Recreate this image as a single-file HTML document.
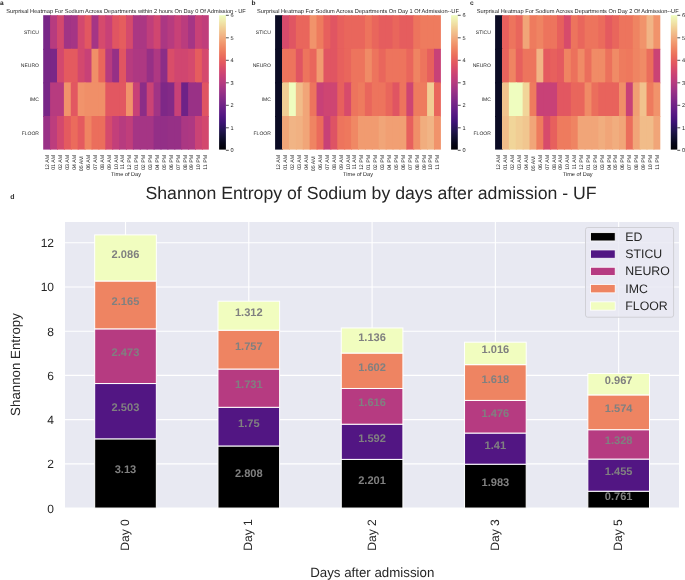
<!DOCTYPE html><html><head><meta charset="utf-8"><style>html,body{margin:0;padding:0;background:#fff;overflow:hidden}svg{display:block;filter:blur(0.45px)}text{text-rendering:geometricPrecision}</style></head><body><svg width="685" height="580" viewBox="0 0 685 580" font-family='"Liberation Sans", sans-serif'>
<rect width="685" height="580" fill="#fff"/>
<rect x="43.20" y="15.20" width="7.90" height="34.60" fill="#782687"/>
<rect x="50.10" y="15.20" width="7.90" height="34.60" fill="#b73b7f"/>
<rect x="57.00" y="15.20" width="7.90" height="34.60" fill="#d3486e"/>
<rect x="63.90" y="15.20" width="7.90" height="34.60" fill="#a13485"/>
<rect x="70.80" y="15.20" width="7.90" height="34.60" fill="#a53585"/>
<rect x="77.70" y="15.20" width="7.90" height="34.60" fill="#d3486e"/>
<rect x="84.60" y="15.20" width="7.90" height="34.60" fill="#e25761"/>
<rect x="91.50" y="15.20" width="7.90" height="34.60" fill="#a53585"/>
<rect x="98.40" y="15.20" width="7.90" height="34.60" fill="#d54a6d"/>
<rect x="105.30" y="15.20" width="7.90" height="34.60" fill="#c84177"/>
<rect x="112.20" y="15.20" width="7.90" height="34.60" fill="#e05562"/>
<rect x="119.10" y="15.20" width="7.90" height="34.60" fill="#e55d5e"/>
<rect x="126.00" y="15.20" width="7.90" height="34.60" fill="#d54a6d"/>
<rect x="132.90" y="15.20" width="7.90" height="34.60" fill="#ab3783"/>
<rect x="139.80" y="15.20" width="7.90" height="34.60" fill="#ab3783"/>
<rect x="146.70" y="15.20" width="7.90" height="34.60" fill="#c03e7b"/>
<rect x="153.60" y="15.20" width="7.90" height="34.60" fill="#d04670"/>
<rect x="160.50" y="15.20" width="7.90" height="34.60" fill="#ab3783"/>
<rect x="167.40" y="15.20" width="7.90" height="34.60" fill="#b73b7f"/>
<rect x="174.30" y="15.20" width="7.90" height="34.60" fill="#c84177"/>
<rect x="181.20" y="15.20" width="7.90" height="34.60" fill="#ba3c7e"/>
<rect x="188.10" y="15.20" width="7.90" height="34.60" fill="#a53585"/>
<rect x="195.00" y="15.20" width="7.90" height="34.60" fill="#c84177"/>
<rect x="201.90" y="15.20" width="6.90" height="34.60" fill="#c03e7b"/>
<rect x="43.20" y="48.80" width="7.90" height="34.60" fill="#782687"/>
<rect x="50.10" y="48.80" width="7.90" height="34.60" fill="#7b2787"/>
<rect x="57.00" y="48.80" width="7.90" height="34.60" fill="#d3486e"/>
<rect x="63.90" y="48.80" width="7.90" height="34.60" fill="#e45a5f"/>
<rect x="70.80" y="48.80" width="7.90" height="34.60" fill="#e45a5f"/>
<rect x="77.70" y="48.80" width="7.90" height="34.60" fill="#d3486e"/>
<rect x="84.60" y="48.80" width="7.90" height="34.60" fill="#c84177"/>
<rect x="91.50" y="48.80" width="7.90" height="34.60" fill="#f08f68"/>
<rect x="98.40" y="48.80" width="7.90" height="34.60" fill="#e9665c"/>
<rect x="105.30" y="48.80" width="7.90" height="34.60" fill="#b73b7f"/>
<rect x="112.20" y="48.80" width="7.90" height="34.60" fill="#963086"/>
<rect x="119.10" y="48.80" width="7.90" height="34.60" fill="#e05562"/>
<rect x="126.00" y="48.80" width="7.90" height="34.60" fill="#b73b7f"/>
<rect x="132.90" y="48.80" width="7.90" height="34.60" fill="#ae3882"/>
<rect x="139.80" y="48.80" width="7.90" height="34.60" fill="#ae3882"/>
<rect x="146.70" y="48.80" width="7.90" height="34.60" fill="#963086"/>
<rect x="153.60" y="48.80" width="7.90" height="34.60" fill="#ae3882"/>
<rect x="160.50" y="48.80" width="7.90" height="34.60" fill="#8c2d87"/>
<rect x="167.40" y="48.80" width="7.90" height="34.60" fill="#d94d69"/>
<rect x="174.30" y="48.80" width="7.90" height="34.60" fill="#d04670"/>
<rect x="181.20" y="48.80" width="7.90" height="34.60" fill="#d04670"/>
<rect x="188.10" y="48.80" width="7.90" height="34.60" fill="#d54a6d"/>
<rect x="195.00" y="48.80" width="7.90" height="34.60" fill="#e55d5e"/>
<rect x="201.90" y="48.80" width="6.90" height="34.60" fill="#d54a6d"/>
<rect x="43.20" y="82.40" width="7.90" height="34.60" fill="#782687"/>
<rect x="50.10" y="82.40" width="7.90" height="34.60" fill="#b73b7f"/>
<rect x="57.00" y="82.40" width="7.90" height="34.60" fill="#b73b7f"/>
<rect x="63.90" y="82.40" width="7.90" height="34.60" fill="#f1936b"/>
<rect x="70.80" y="82.40" width="7.90" height="34.60" fill="#e25761"/>
<rect x="77.70" y="82.40" width="7.90" height="34.60" fill="#f1936b"/>
<rect x="84.60" y="82.40" width="7.90" height="34.60" fill="#f08f68"/>
<rect x="91.50" y="82.40" width="7.90" height="34.60" fill="#f08f68"/>
<rect x="98.40" y="82.40" width="7.90" height="34.60" fill="#f08f68"/>
<rect x="105.30" y="82.40" width="7.90" height="34.60" fill="#e25761"/>
<rect x="112.20" y="82.40" width="7.90" height="34.60" fill="#e25761"/>
<rect x="119.10" y="82.40" width="7.90" height="34.60" fill="#e25761"/>
<rect x="126.00" y="82.40" width="7.90" height="34.60" fill="#f1936b"/>
<rect x="132.90" y="82.40" width="7.90" height="34.60" fill="#c84177"/>
<rect x="139.80" y="82.40" width="7.90" height="34.60" fill="#8c2d87"/>
<rect x="146.70" y="82.40" width="7.90" height="34.60" fill="#ca4375"/>
<rect x="153.60" y="82.40" width="7.90" height="34.60" fill="#a13485"/>
<rect x="160.50" y="82.40" width="7.90" height="34.60" fill="#7e2887"/>
<rect x="167.40" y="82.40" width="7.90" height="34.60" fill="#832a87"/>
<rect x="174.30" y="82.40" width="7.90" height="34.60" fill="#c84177"/>
<rect x="181.20" y="82.40" width="7.90" height="34.60" fill="#6e2287"/>
<rect x="188.10" y="82.40" width="7.90" height="34.60" fill="#993186"/>
<rect x="195.00" y="82.40" width="7.90" height="34.60" fill="#993186"/>
<rect x="201.90" y="82.40" width="6.90" height="34.60" fill="#e05562"/>
<rect x="43.20" y="116.00" width="7.90" height="33.60" fill="#993186"/>
<rect x="50.10" y="116.00" width="7.90" height="33.60" fill="#bd3d7d"/>
<rect x="57.00" y="116.00" width="7.90" height="33.60" fill="#d3486e"/>
<rect x="63.90" y="116.00" width="7.90" height="33.60" fill="#e45a5f"/>
<rect x="70.80" y="116.00" width="7.90" height="33.60" fill="#eb6b5c"/>
<rect x="77.70" y="116.00" width="7.90" height="33.60" fill="#e45a5f"/>
<rect x="84.60" y="116.00" width="7.90" height="33.60" fill="#ef8462"/>
<rect x="91.50" y="116.00" width="7.90" height="33.60" fill="#eb6e5c"/>
<rect x="98.40" y="116.00" width="7.90" height="33.60" fill="#eb6e5c"/>
<rect x="105.30" y="116.00" width="7.90" height="33.60" fill="#d54a6d"/>
<rect x="112.20" y="116.00" width="7.90" height="33.60" fill="#c33f7a"/>
<rect x="119.10" y="116.00" width="7.90" height="33.60" fill="#b73b7f"/>
<rect x="126.00" y="116.00" width="7.90" height="33.60" fill="#c03e7b"/>
<rect x="132.90" y="116.00" width="7.90" height="33.60" fill="#a53585"/>
<rect x="139.80" y="116.00" width="7.90" height="33.60" fill="#a53585"/>
<rect x="146.70" y="116.00" width="7.90" height="33.60" fill="#a53585"/>
<rect x="153.60" y="116.00" width="7.90" height="33.60" fill="#932f87"/>
<rect x="160.50" y="116.00" width="7.90" height="33.60" fill="#932f87"/>
<rect x="167.40" y="116.00" width="7.90" height="33.60" fill="#963086"/>
<rect x="174.30" y="116.00" width="7.90" height="33.60" fill="#963086"/>
<rect x="181.20" y="116.00" width="7.90" height="33.60" fill="#ab3783"/>
<rect x="188.10" y="116.00" width="7.90" height="33.60" fill="#ae3882"/>
<rect x="195.00" y="116.00" width="7.90" height="33.60" fill="#ca4375"/>
<rect x="201.90" y="116.00" width="6.90" height="33.60" fill="#d3486e"/>
<defs><linearGradient id="ga" x1="0" y1="0" x2="0" y2="1"><stop offset="0.000" stop-color="#effdbf"/><stop offset="0.050" stop-color="#f0e6a9"/><stop offset="0.100" stop-color="#f1cd94"/><stop offset="0.150" stop-color="#f1b485"/><stop offset="0.200" stop-color="#f19b70"/><stop offset="0.250" stop-color="#ef8462"/><stop offset="0.300" stop-color="#eb6e5c"/><stop offset="0.350" stop-color="#e45a5f"/><stop offset="0.400" stop-color="#d74b6b"/><stop offset="0.450" stop-color="#c84177"/><stop offset="0.500" stop-color="#b73b7f"/><stop offset="0.550" stop-color="#a13485"/><stop offset="0.600" stop-color="#8c2d87"/><stop offset="0.650" stop-color="#782687"/><stop offset="0.700" stop-color="#641e86"/><stop offset="0.750" stop-color="#511682"/><stop offset="0.800" stop-color="#3b1373"/><stop offset="0.850" stop-color="#251555"/><stop offset="0.900" stop-color="#141136"/><stop offset="0.950" stop-color="#06061a"/><stop offset="1.000" stop-color="#000004"/></linearGradient></defs>
<rect x="219.1" y="15.2" width="6.80" height="134.40" fill="url(#ga)"/>
<line x1="225.9" x2="228.8" y1="150.30" y2="150.30" stroke="#262626" stroke-width="0.8"/>
<text x="230.50" y="152.30" font-size="5.6" fill="#262626">0</text>
<line x1="225.9" x2="228.8" y1="127.80" y2="127.80" stroke="#262626" stroke-width="0.8"/>
<text x="230.50" y="129.80" font-size="5.6" fill="#262626">1</text>
<line x1="225.9" x2="228.8" y1="105.30" y2="105.30" stroke="#262626" stroke-width="0.8"/>
<text x="230.50" y="107.30" font-size="5.6" fill="#262626">2</text>
<line x1="225.9" x2="228.8" y1="82.80" y2="82.80" stroke="#262626" stroke-width="0.8"/>
<text x="230.50" y="84.80" font-size="5.6" fill="#262626">3</text>
<line x1="225.9" x2="228.8" y1="60.30" y2="60.30" stroke="#262626" stroke-width="0.8"/>
<text x="230.50" y="62.30" font-size="5.6" fill="#262626">4</text>
<line x1="225.9" x2="228.8" y1="37.80" y2="37.80" stroke="#262626" stroke-width="0.8"/>
<text x="230.50" y="39.80" font-size="5.6" fill="#262626">5</text>
<line x1="225.9" x2="228.8" y1="15.30" y2="15.30" stroke="#262626" stroke-width="0.8"/>
<text x="230.50" y="17.30" font-size="5.6" fill="#262626">6</text>
<text x="126.00" y="12.75" font-size="5.66" fill="#262626" text-anchor="middle">Surprisal Heatmap For Sodium Across Departments within 2 hours On Day 0 Of Admission - UF</text>
<text x="0.0" y="4.7" font-size="6.6" font-weight="bold" fill="#262626">a</text>
<text x="38.90" y="33.80" font-size="5" fill="#262626" text-anchor="end">STICU</text>
<text x="38.90" y="67.40" font-size="5" fill="#262626" text-anchor="end">NEURO</text>
<text x="38.90" y="101.00" font-size="5" fill="#262626" text-anchor="end">IMC</text>
<text x="38.90" y="134.60" font-size="5" fill="#262626" text-anchor="end">FLOOR</text>
<text transform="translate(48.55,154.8) rotate(-90)" font-size="5.3" fill="#262626" text-anchor="end">12 AM</text>
<text transform="translate(55.45,154.8) rotate(-90)" font-size="5.3" fill="#262626" text-anchor="end">01 AM</text>
<text transform="translate(62.35,154.8) rotate(-90)" font-size="5.3" fill="#262626" text-anchor="end">02 AM</text>
<text transform="translate(69.25,154.8) rotate(-90)" font-size="5.3" fill="#262626" text-anchor="end">03 AM</text>
<text transform="translate(76.15,154.8) rotate(-90)" font-size="5.3" fill="#262626" text-anchor="end">04 AM</text>
<text transform="translate(83.05,156.2) rotate(-90)" font-size="5.3" fill="#262626" text-anchor="end">05 AM</text>
<text transform="translate(89.95,154.8) rotate(-90)" font-size="5.3" fill="#262626" text-anchor="end">06 AM</text>
<text transform="translate(96.85,154.8) rotate(-90)" font-size="5.3" fill="#262626" text-anchor="end">07 AM</text>
<text transform="translate(103.75,154.8) rotate(-90)" font-size="5.3" fill="#262626" text-anchor="end">08 AM</text>
<text transform="translate(110.65,154.8) rotate(-90)" font-size="5.3" fill="#262626" text-anchor="end">09 AM</text>
<text transform="translate(117.55,154.8) rotate(-90)" font-size="5.3" fill="#262626" text-anchor="end">10 AM</text>
<text transform="translate(124.45,154.8) rotate(-90)" font-size="5.3" fill="#262626" text-anchor="end">11 AM</text>
<text transform="translate(131.35,154.8) rotate(-90)" font-size="5.3" fill="#262626" text-anchor="end">12 PM</text>
<text transform="translate(138.25,154.8) rotate(-90)" font-size="5.3" fill="#262626" text-anchor="end">01 PM</text>
<text transform="translate(145.15,154.8) rotate(-90)" font-size="5.3" fill="#262626" text-anchor="end">02 PM</text>
<text transform="translate(152.05,154.8) rotate(-90)" font-size="5.3" fill="#262626" text-anchor="end">03 PM</text>
<text transform="translate(158.95,154.8) rotate(-90)" font-size="5.3" fill="#262626" text-anchor="end">04 PM</text>
<text transform="translate(165.85,154.8) rotate(-90)" font-size="5.3" fill="#262626" text-anchor="end">05 PM</text>
<text transform="translate(172.75,154.8) rotate(-90)" font-size="5.3" fill="#262626" text-anchor="end">06 PM</text>
<text transform="translate(179.65,154.8) rotate(-90)" font-size="5.3" fill="#262626" text-anchor="end">07 PM</text>
<text transform="translate(186.55,154.8) rotate(-90)" font-size="5.3" fill="#262626" text-anchor="end">08 PM</text>
<text transform="translate(193.45,154.8) rotate(-90)" font-size="5.3" fill="#262626" text-anchor="end">09 PM</text>
<text transform="translate(200.35,154.8) rotate(-90)" font-size="5.3" fill="#262626" text-anchor="end">10 PM</text>
<text transform="translate(207.25,154.8) rotate(-90)" font-size="5.3" fill="#262626" text-anchor="end">11 PM</text>
<text x="126.00" y="176.3" font-size="5.6" fill="#262626" text-anchor="middle">Time of Day</text>
<rect x="275.10" y="15.20" width="7.91" height="34.60" fill="#0b0b24"/>
<rect x="282.01" y="15.20" width="7.91" height="34.60" fill="#d74b6b"/>
<rect x="288.92" y="15.20" width="7.91" height="34.60" fill="#e05562"/>
<rect x="295.83" y="15.20" width="7.91" height="34.60" fill="#e9665c"/>
<rect x="302.73" y="15.20" width="7.91" height="34.60" fill="#e9665c"/>
<rect x="309.64" y="15.20" width="7.91" height="34.60" fill="#f1936b"/>
<rect x="316.55" y="15.20" width="7.91" height="34.60" fill="#ee7b5e"/>
<rect x="323.46" y="15.20" width="7.91" height="34.60" fill="#e7605d"/>
<rect x="330.37" y="15.20" width="7.91" height="34.60" fill="#e05562"/>
<rect x="337.27" y="15.20" width="7.91" height="34.60" fill="#e7605d"/>
<rect x="344.18" y="15.20" width="7.91" height="34.60" fill="#e9665c"/>
<rect x="351.09" y="15.20" width="7.91" height="34.60" fill="#e9665c"/>
<rect x="358.00" y="15.20" width="7.91" height="34.60" fill="#e9665c"/>
<rect x="364.91" y="15.20" width="7.91" height="34.60" fill="#ed745d"/>
<rect x="371.82" y="15.20" width="7.91" height="34.60" fill="#e9665c"/>
<rect x="378.73" y="15.20" width="7.91" height="34.60" fill="#e55d5e"/>
<rect x="385.63" y="15.20" width="7.91" height="34.60" fill="#e55d5e"/>
<rect x="392.54" y="15.20" width="7.91" height="34.60" fill="#e9665c"/>
<rect x="399.45" y="15.20" width="7.91" height="34.60" fill="#e55d5e"/>
<rect x="406.36" y="15.20" width="7.91" height="34.60" fill="#e55d5e"/>
<rect x="413.27" y="15.20" width="7.91" height="34.60" fill="#ed745d"/>
<rect x="420.17" y="15.20" width="7.91" height="34.60" fill="#ee7b5e"/>
<rect x="427.08" y="15.20" width="7.91" height="34.60" fill="#ee7b5e"/>
<rect x="433.99" y="15.20" width="6.91" height="34.60" fill="#ee7b5e"/>
<rect x="275.10" y="48.80" width="7.91" height="34.60" fill="#0b0b24"/>
<rect x="282.01" y="48.80" width="7.91" height="34.60" fill="#ed745d"/>
<rect x="288.92" y="48.80" width="7.91" height="34.60" fill="#ed745d"/>
<rect x="295.83" y="48.80" width="7.91" height="34.60" fill="#e05562"/>
<rect x="302.73" y="48.80" width="7.91" height="34.60" fill="#ed745d"/>
<rect x="309.64" y="48.80" width="7.91" height="34.60" fill="#e9665c"/>
<rect x="316.55" y="48.80" width="7.91" height="34.60" fill="#f19b70"/>
<rect x="323.46" y="48.80" width="7.91" height="34.60" fill="#e05562"/>
<rect x="330.37" y="48.80" width="7.91" height="34.60" fill="#e05562"/>
<rect x="337.27" y="48.80" width="7.91" height="34.60" fill="#e7605d"/>
<rect x="344.18" y="48.80" width="7.91" height="34.60" fill="#e9665c"/>
<rect x="351.09" y="48.80" width="7.91" height="34.60" fill="#ed745d"/>
<rect x="358.00" y="48.80" width="7.91" height="34.60" fill="#ed745d"/>
<rect x="364.91" y="48.80" width="7.91" height="34.60" fill="#f08b66"/>
<rect x="371.82" y="48.80" width="7.91" height="34.60" fill="#ed745d"/>
<rect x="378.73" y="48.80" width="7.91" height="34.60" fill="#e9665c"/>
<rect x="385.63" y="48.80" width="7.91" height="34.60" fill="#ed745d"/>
<rect x="392.54" y="48.80" width="7.91" height="34.60" fill="#ed745d"/>
<rect x="399.45" y="48.80" width="7.91" height="34.60" fill="#ed745d"/>
<rect x="406.36" y="48.80" width="7.91" height="34.60" fill="#e9665c"/>
<rect x="413.27" y="48.80" width="7.91" height="34.60" fill="#ef8462"/>
<rect x="420.17" y="48.80" width="7.91" height="34.60" fill="#ed745d"/>
<rect x="427.08" y="48.80" width="7.91" height="34.60" fill="#e7605d"/>
<rect x="433.99" y="48.80" width="6.91" height="34.60" fill="#c84177"/>
<rect x="275.10" y="82.40" width="7.91" height="34.60" fill="#0b0b24"/>
<rect x="282.01" y="82.40" width="7.91" height="34.60" fill="#f1cd94"/>
<rect x="288.92" y="82.40" width="7.91" height="34.60" fill="#effdbf"/>
<rect x="295.83" y="82.40" width="7.91" height="34.60" fill="#f1bc89"/>
<rect x="302.73" y="82.40" width="7.91" height="34.60" fill="#f1a578"/>
<rect x="309.64" y="82.40" width="7.91" height="34.60" fill="#ed745d"/>
<rect x="316.55" y="82.40" width="7.91" height="34.60" fill="#c84177"/>
<rect x="323.46" y="82.40" width="7.91" height="34.60" fill="#ce4572"/>
<rect x="330.37" y="82.40" width="7.91" height="34.60" fill="#ce4572"/>
<rect x="337.27" y="82.40" width="7.91" height="34.60" fill="#e7605d"/>
<rect x="344.18" y="82.40" width="7.91" height="34.60" fill="#d74b6b"/>
<rect x="351.09" y="82.40" width="7.91" height="34.60" fill="#ed745d"/>
<rect x="358.00" y="82.40" width="7.91" height="34.60" fill="#ee7b5e"/>
<rect x="364.91" y="82.40" width="7.91" height="34.60" fill="#e9665c"/>
<rect x="371.82" y="82.40" width="7.91" height="34.60" fill="#ed745d"/>
<rect x="378.73" y="82.40" width="7.91" height="34.60" fill="#ed745d"/>
<rect x="385.63" y="82.40" width="7.91" height="34.60" fill="#e9665c"/>
<rect x="392.54" y="82.40" width="7.91" height="34.60" fill="#e05562"/>
<rect x="399.45" y="82.40" width="7.91" height="34.60" fill="#ed745d"/>
<rect x="406.36" y="82.40" width="7.91" height="34.60" fill="#ce4572"/>
<rect x="413.27" y="82.40" width="7.91" height="34.60" fill="#ee7b5e"/>
<rect x="420.17" y="82.40" width="7.91" height="34.60" fill="#ee7b5e"/>
<rect x="427.08" y="82.40" width="7.91" height="34.60" fill="#f1cd94"/>
<rect x="433.99" y="82.40" width="6.91" height="34.60" fill="#e9665c"/>
<rect x="275.10" y="116.00" width="7.91" height="33.60" fill="#0b0b24"/>
<rect x="282.01" y="116.00" width="7.91" height="33.60" fill="#f1a578"/>
<rect x="288.92" y="116.00" width="7.91" height="33.60" fill="#f1b485"/>
<rect x="295.83" y="116.00" width="7.91" height="33.60" fill="#f1b182"/>
<rect x="302.73" y="116.00" width="7.91" height="33.60" fill="#f1a578"/>
<rect x="309.64" y="116.00" width="7.91" height="33.60" fill="#ef8462"/>
<rect x="316.55" y="116.00" width="7.91" height="33.60" fill="#eb6b5c"/>
<rect x="323.46" y="116.00" width="7.91" height="33.60" fill="#c84177"/>
<rect x="330.37" y="116.00" width="7.91" height="33.60" fill="#de5364"/>
<rect x="337.27" y="116.00" width="7.91" height="33.60" fill="#ed745d"/>
<rect x="344.18" y="116.00" width="7.91" height="33.60" fill="#ee785d"/>
<rect x="351.09" y="116.00" width="7.91" height="33.60" fill="#f08864"/>
<rect x="358.00" y="116.00" width="7.91" height="33.60" fill="#f19b70"/>
<rect x="364.91" y="116.00" width="7.91" height="33.60" fill="#f19b70"/>
<rect x="371.82" y="116.00" width="7.91" height="33.60" fill="#f19b70"/>
<rect x="378.73" y="116.00" width="7.91" height="33.60" fill="#f1a578"/>
<rect x="385.63" y="116.00" width="7.91" height="33.60" fill="#f19f73"/>
<rect x="392.54" y="116.00" width="7.91" height="33.60" fill="#f19f73"/>
<rect x="399.45" y="116.00" width="7.91" height="33.60" fill="#f19f73"/>
<rect x="406.36" y="116.00" width="7.91" height="33.60" fill="#e7605d"/>
<rect x="413.27" y="116.00" width="7.91" height="33.60" fill="#f08f68"/>
<rect x="420.17" y="116.00" width="7.91" height="33.60" fill="#f1ad7e"/>
<rect x="427.08" y="116.00" width="7.91" height="33.60" fill="#f1b485"/>
<rect x="433.99" y="116.00" width="6.91" height="33.60" fill="#f1936b"/>
<defs><linearGradient id="gb" x1="0" y1="0" x2="0" y2="1"><stop offset="0.000" stop-color="#effdbf"/><stop offset="0.050" stop-color="#f0e6a9"/><stop offset="0.100" stop-color="#f1cd94"/><stop offset="0.150" stop-color="#f1b485"/><stop offset="0.200" stop-color="#f19b70"/><stop offset="0.250" stop-color="#ef8462"/><stop offset="0.300" stop-color="#eb6e5c"/><stop offset="0.350" stop-color="#e45a5f"/><stop offset="0.400" stop-color="#d74b6b"/><stop offset="0.450" stop-color="#c84177"/><stop offset="0.500" stop-color="#b73b7f"/><stop offset="0.550" stop-color="#a13485"/><stop offset="0.600" stop-color="#8c2d87"/><stop offset="0.650" stop-color="#782687"/><stop offset="0.700" stop-color="#641e86"/><stop offset="0.750" stop-color="#511682"/><stop offset="0.800" stop-color="#3b1373"/><stop offset="0.850" stop-color="#251555"/><stop offset="0.900" stop-color="#141136"/><stop offset="0.950" stop-color="#06061a"/><stop offset="1.000" stop-color="#000004"/></linearGradient></defs>
<rect x="451.1" y="15.2" width="6.70" height="134.40" fill="url(#gb)"/>
<line x1="457.8" x2="460.7" y1="150.30" y2="150.30" stroke="#262626" stroke-width="0.8"/>
<text x="462.40" y="152.30" font-size="5.6" fill="#262626">0</text>
<line x1="457.8" x2="460.7" y1="127.80" y2="127.80" stroke="#262626" stroke-width="0.8"/>
<text x="462.40" y="129.80" font-size="5.6" fill="#262626">1</text>
<line x1="457.8" x2="460.7" y1="105.30" y2="105.30" stroke="#262626" stroke-width="0.8"/>
<text x="462.40" y="107.30" font-size="5.6" fill="#262626">2</text>
<line x1="457.8" x2="460.7" y1="82.80" y2="82.80" stroke="#262626" stroke-width="0.8"/>
<text x="462.40" y="84.80" font-size="5.6" fill="#262626">3</text>
<line x1="457.8" x2="460.7" y1="60.30" y2="60.30" stroke="#262626" stroke-width="0.8"/>
<text x="462.40" y="62.30" font-size="5.6" fill="#262626">4</text>
<line x1="457.8" x2="460.7" y1="37.80" y2="37.80" stroke="#262626" stroke-width="0.8"/>
<text x="462.40" y="39.80" font-size="5.6" fill="#262626">5</text>
<line x1="457.8" x2="460.7" y1="15.30" y2="15.30" stroke="#262626" stroke-width="0.8"/>
<text x="462.40" y="17.30" font-size="5.6" fill="#262626">6</text>
<text x="358.00" y="12.75" font-size="5.66" fill="#262626" text-anchor="middle">Surprisal Heatmap For Sodium Across Departments On Day 1 Of Admission--UF</text>
<text x="251.5" y="4.7" font-size="6.6" font-weight="bold" fill="#262626">b</text>
<text x="270.80" y="33.80" font-size="5" fill="#262626" text-anchor="end">STICU</text>
<text x="270.80" y="67.40" font-size="5" fill="#262626" text-anchor="end">NEURO</text>
<text x="270.80" y="101.00" font-size="5" fill="#262626" text-anchor="end">IMC</text>
<text x="270.80" y="134.60" font-size="5" fill="#262626" text-anchor="end">FLOOR</text>
<text transform="translate(280.45,154.8) rotate(-90)" font-size="5.3" fill="#262626" text-anchor="end">12 AM</text>
<text transform="translate(287.36,154.8) rotate(-90)" font-size="5.3" fill="#262626" text-anchor="end">01 AM</text>
<text transform="translate(294.27,154.8) rotate(-90)" font-size="5.3" fill="#262626" text-anchor="end">02 AM</text>
<text transform="translate(301.18,154.8) rotate(-90)" font-size="5.3" fill="#262626" text-anchor="end">03 AM</text>
<text transform="translate(308.09,154.8) rotate(-90)" font-size="5.3" fill="#262626" text-anchor="end">04 AM</text>
<text transform="translate(315.00,156.2) rotate(-90)" font-size="5.3" fill="#262626" text-anchor="end">05 AM</text>
<text transform="translate(321.90,154.8) rotate(-90)" font-size="5.3" fill="#262626" text-anchor="end">06 AM</text>
<text transform="translate(328.81,154.8) rotate(-90)" font-size="5.3" fill="#262626" text-anchor="end">07 AM</text>
<text transform="translate(335.72,154.8) rotate(-90)" font-size="5.3" fill="#262626" text-anchor="end">08 AM</text>
<text transform="translate(342.63,154.8) rotate(-90)" font-size="5.3" fill="#262626" text-anchor="end">09 AM</text>
<text transform="translate(349.54,154.8) rotate(-90)" font-size="5.3" fill="#262626" text-anchor="end">10 AM</text>
<text transform="translate(356.45,154.8) rotate(-90)" font-size="5.3" fill="#262626" text-anchor="end">11 AM</text>
<text transform="translate(363.35,154.8) rotate(-90)" font-size="5.3" fill="#262626" text-anchor="end">12 PM</text>
<text transform="translate(370.26,154.8) rotate(-90)" font-size="5.3" fill="#262626" text-anchor="end">01 PM</text>
<text transform="translate(377.17,154.8) rotate(-90)" font-size="5.3" fill="#262626" text-anchor="end">02 PM</text>
<text transform="translate(384.08,154.8) rotate(-90)" font-size="5.3" fill="#262626" text-anchor="end">03 PM</text>
<text transform="translate(390.99,154.8) rotate(-90)" font-size="5.3" fill="#262626" text-anchor="end">04 PM</text>
<text transform="translate(397.90,154.8) rotate(-90)" font-size="5.3" fill="#262626" text-anchor="end">05 PM</text>
<text transform="translate(404.80,154.8) rotate(-90)" font-size="5.3" fill="#262626" text-anchor="end">06 PM</text>
<text transform="translate(411.71,154.8) rotate(-90)" font-size="5.3" fill="#262626" text-anchor="end">07 PM</text>
<text transform="translate(418.62,154.8) rotate(-90)" font-size="5.3" fill="#262626" text-anchor="end">08 PM</text>
<text transform="translate(425.53,154.8) rotate(-90)" font-size="5.3" fill="#262626" text-anchor="end">09 PM</text>
<text transform="translate(432.44,154.8) rotate(-90)" font-size="5.3" fill="#262626" text-anchor="end">10 PM</text>
<text transform="translate(439.35,154.8) rotate(-90)" font-size="5.3" fill="#262626" text-anchor="end">11 PM</text>
<text x="358.00" y="176.3" font-size="5.6" fill="#262626" text-anchor="middle">Time of Day</text>
<rect x="495.10" y="15.20" width="7.88" height="34.60" fill="#0b0b24"/>
<rect x="501.98" y="15.20" width="7.88" height="34.60" fill="#e7605d"/>
<rect x="508.87" y="15.20" width="7.88" height="34.60" fill="#ed745d"/>
<rect x="515.75" y="15.20" width="7.88" height="34.60" fill="#e9665c"/>
<rect x="522.63" y="15.20" width="7.88" height="34.60" fill="#f1a578"/>
<rect x="529.52" y="15.20" width="7.88" height="34.60" fill="#ee7b5e"/>
<rect x="536.40" y="15.20" width="7.88" height="34.60" fill="#ef8462"/>
<rect x="543.28" y="15.20" width="7.88" height="34.60" fill="#ed745d"/>
<rect x="550.17" y="15.20" width="7.88" height="34.60" fill="#ed745d"/>
<rect x="557.05" y="15.20" width="7.88" height="34.60" fill="#e7605d"/>
<rect x="563.93" y="15.20" width="7.88" height="34.60" fill="#d74b6b"/>
<rect x="570.82" y="15.20" width="7.88" height="34.60" fill="#ed745d"/>
<rect x="577.70" y="15.20" width="7.88" height="34.60" fill="#e9665c"/>
<rect x="584.58" y="15.20" width="7.88" height="34.60" fill="#ed745d"/>
<rect x="591.47" y="15.20" width="7.88" height="34.60" fill="#ed745d"/>
<rect x="598.35" y="15.20" width="7.88" height="34.60" fill="#eb6b5c"/>
<rect x="605.23" y="15.20" width="7.88" height="34.60" fill="#e45a5f"/>
<rect x="612.12" y="15.20" width="7.88" height="34.60" fill="#e9665c"/>
<rect x="619.00" y="15.20" width="7.88" height="34.60" fill="#ed745d"/>
<rect x="625.88" y="15.20" width="7.88" height="34.60" fill="#ed745d"/>
<rect x="632.77" y="15.20" width="7.88" height="34.60" fill="#ef8462"/>
<rect x="639.65" y="15.20" width="7.88" height="34.60" fill="#f1936b"/>
<rect x="646.53" y="15.20" width="7.88" height="34.60" fill="#f1b485"/>
<rect x="653.42" y="15.20" width="6.88" height="34.60" fill="#f1936b"/>
<rect x="495.10" y="48.80" width="7.88" height="34.60" fill="#0b0b24"/>
<rect x="501.98" y="48.80" width="7.88" height="34.60" fill="#e8635c"/>
<rect x="508.87" y="48.80" width="7.88" height="34.60" fill="#ef8462"/>
<rect x="515.75" y="48.80" width="7.88" height="34.60" fill="#e7605d"/>
<rect x="522.63" y="48.80" width="7.88" height="34.60" fill="#ed745d"/>
<rect x="529.52" y="48.80" width="7.88" height="34.60" fill="#ed745d"/>
<rect x="536.40" y="48.80" width="7.88" height="34.60" fill="#f1b485"/>
<rect x="543.28" y="48.80" width="7.88" height="34.60" fill="#e45a5f"/>
<rect x="550.17" y="48.80" width="7.88" height="34.60" fill="#e7605d"/>
<rect x="557.05" y="48.80" width="7.88" height="34.60" fill="#e45a5f"/>
<rect x="563.93" y="48.80" width="7.88" height="34.60" fill="#ef8462"/>
<rect x="570.82" y="48.80" width="7.88" height="34.60" fill="#ec715c"/>
<rect x="577.70" y="48.80" width="7.88" height="34.60" fill="#f08b66"/>
<rect x="584.58" y="48.80" width="7.88" height="34.60" fill="#eb6e5c"/>
<rect x="591.47" y="48.80" width="7.88" height="34.60" fill="#f08b66"/>
<rect x="598.35" y="48.80" width="7.88" height="34.60" fill="#f08b66"/>
<rect x="605.23" y="48.80" width="7.88" height="34.60" fill="#ec715c"/>
<rect x="612.12" y="48.80" width="7.88" height="34.60" fill="#f08b66"/>
<rect x="619.00" y="48.80" width="7.88" height="34.60" fill="#ee7b5e"/>
<rect x="625.88" y="48.80" width="7.88" height="34.60" fill="#ee785d"/>
<rect x="632.77" y="48.80" width="7.88" height="34.60" fill="#ef8462"/>
<rect x="639.65" y="48.80" width="7.88" height="34.60" fill="#f08b66"/>
<rect x="646.53" y="48.80" width="7.88" height="34.60" fill="#eb6e5c"/>
<rect x="653.42" y="48.80" width="6.88" height="34.60" fill="#ca4375"/>
<rect x="495.10" y="82.40" width="7.88" height="34.60" fill="#0b0b24"/>
<rect x="501.98" y="82.40" width="7.88" height="34.60" fill="#f1c28d"/>
<rect x="508.87" y="82.40" width="7.88" height="34.60" fill="#effdbf"/>
<rect x="515.75" y="82.40" width="7.88" height="34.60" fill="#effdbf"/>
<rect x="522.63" y="82.40" width="7.88" height="34.60" fill="#f1d599"/>
<rect x="529.52" y="82.40" width="7.88" height="34.60" fill="#ee7b5e"/>
<rect x="536.40" y="82.40" width="7.88" height="34.60" fill="#c84177"/>
<rect x="543.28" y="82.40" width="7.88" height="34.60" fill="#c84177"/>
<rect x="550.17" y="82.40" width="7.88" height="34.60" fill="#c84177"/>
<rect x="557.05" y="82.40" width="7.88" height="34.60" fill="#e25761"/>
<rect x="563.93" y="82.40" width="7.88" height="34.60" fill="#e25761"/>
<rect x="570.82" y="82.40" width="7.88" height="34.60" fill="#e9665c"/>
<rect x="577.70" y="82.40" width="7.88" height="34.60" fill="#e9665c"/>
<rect x="584.58" y="82.40" width="7.88" height="34.60" fill="#f08b66"/>
<rect x="591.47" y="82.40" width="7.88" height="34.60" fill="#eb6e5c"/>
<rect x="598.35" y="82.40" width="7.88" height="34.60" fill="#e8635c"/>
<rect x="605.23" y="82.40" width="7.88" height="34.60" fill="#e8635c"/>
<rect x="612.12" y="82.40" width="7.88" height="34.60" fill="#e8635c"/>
<rect x="619.00" y="82.40" width="7.88" height="34.60" fill="#f08f68"/>
<rect x="625.88" y="82.40" width="7.88" height="34.60" fill="#c84177"/>
<rect x="632.77" y="82.40" width="7.88" height="34.60" fill="#f19f73"/>
<rect x="639.65" y="82.40" width="7.88" height="34.60" fill="#f1c28d"/>
<rect x="646.53" y="82.40" width="7.88" height="34.60" fill="#ee7b5e"/>
<rect x="653.42" y="82.40" width="6.88" height="34.60" fill="#f1936b"/>
<rect x="495.10" y="116.00" width="7.88" height="33.60" fill="#0b0b24"/>
<rect x="501.98" y="116.00" width="7.88" height="33.60" fill="#f1bc89"/>
<rect x="508.87" y="116.00" width="7.88" height="33.60" fill="#f1d599"/>
<rect x="515.75" y="116.00" width="7.88" height="33.60" fill="#f1cd94"/>
<rect x="522.63" y="116.00" width="7.88" height="33.60" fill="#f1c68f"/>
<rect x="529.52" y="116.00" width="7.88" height="33.60" fill="#f1a578"/>
<rect x="536.40" y="116.00" width="7.88" height="33.60" fill="#ee7b5e"/>
<rect x="543.28" y="116.00" width="7.88" height="33.60" fill="#d74b6b"/>
<rect x="550.17" y="116.00" width="7.88" height="33.60" fill="#e7605d"/>
<rect x="557.05" y="116.00" width="7.88" height="33.60" fill="#ee7b5e"/>
<rect x="563.93" y="116.00" width="7.88" height="33.60" fill="#ee7b5e"/>
<rect x="570.82" y="116.00" width="7.88" height="33.60" fill="#ef8462"/>
<rect x="577.70" y="116.00" width="7.88" height="33.60" fill="#f1a578"/>
<rect x="584.58" y="116.00" width="7.88" height="33.60" fill="#f1a578"/>
<rect x="591.47" y="116.00" width="7.88" height="33.60" fill="#f1a578"/>
<rect x="598.35" y="116.00" width="7.88" height="33.60" fill="#f1ad7e"/>
<rect x="605.23" y="116.00" width="7.88" height="33.60" fill="#f1a578"/>
<rect x="612.12" y="116.00" width="7.88" height="33.60" fill="#f1ad7e"/>
<rect x="619.00" y="116.00" width="7.88" height="33.60" fill="#f1a578"/>
<rect x="625.88" y="116.00" width="7.88" height="33.60" fill="#eb6e5c"/>
<rect x="632.77" y="116.00" width="7.88" height="33.60" fill="#f1a578"/>
<rect x="639.65" y="116.00" width="7.88" height="33.60" fill="#f1bc89"/>
<rect x="646.53" y="116.00" width="7.88" height="33.60" fill="#f1bc89"/>
<rect x="653.42" y="116.00" width="6.88" height="33.60" fill="#f1a578"/>
<defs><linearGradient id="gc" x1="0" y1="0" x2="0" y2="1"><stop offset="0.000" stop-color="#effdbf"/><stop offset="0.050" stop-color="#f0e6a9"/><stop offset="0.100" stop-color="#f1cd94"/><stop offset="0.150" stop-color="#f1b485"/><stop offset="0.200" stop-color="#f19b70"/><stop offset="0.250" stop-color="#ef8462"/><stop offset="0.300" stop-color="#eb6e5c"/><stop offset="0.350" stop-color="#e45a5f"/><stop offset="0.400" stop-color="#d74b6b"/><stop offset="0.450" stop-color="#c84177"/><stop offset="0.500" stop-color="#b73b7f"/><stop offset="0.550" stop-color="#a13485"/><stop offset="0.600" stop-color="#8c2d87"/><stop offset="0.650" stop-color="#782687"/><stop offset="0.700" stop-color="#641e86"/><stop offset="0.750" stop-color="#511682"/><stop offset="0.800" stop-color="#3b1373"/><stop offset="0.850" stop-color="#251555"/><stop offset="0.900" stop-color="#141136"/><stop offset="0.950" stop-color="#06061a"/><stop offset="1.000" stop-color="#000004"/></linearGradient></defs>
<rect x="670.8" y="15.2" width="6.50" height="134.40" fill="url(#gc)"/>
<line x1="677.3" x2="680.1999999999999" y1="150.30" y2="150.30" stroke="#262626" stroke-width="0.8"/>
<text x="681.90" y="152.30" font-size="5.6" fill="#262626">0</text>
<line x1="677.3" x2="680.1999999999999" y1="127.80" y2="127.80" stroke="#262626" stroke-width="0.8"/>
<text x="681.90" y="129.80" font-size="5.6" fill="#262626">1</text>
<line x1="677.3" x2="680.1999999999999" y1="105.30" y2="105.30" stroke="#262626" stroke-width="0.8"/>
<text x="681.90" y="107.30" font-size="5.6" fill="#262626">2</text>
<line x1="677.3" x2="680.1999999999999" y1="82.80" y2="82.80" stroke="#262626" stroke-width="0.8"/>
<text x="681.90" y="84.80" font-size="5.6" fill="#262626">3</text>
<line x1="677.3" x2="680.1999999999999" y1="60.30" y2="60.30" stroke="#262626" stroke-width="0.8"/>
<text x="681.90" y="62.30" font-size="5.6" fill="#262626">4</text>
<line x1="677.3" x2="680.1999999999999" y1="37.80" y2="37.80" stroke="#262626" stroke-width="0.8"/>
<text x="681.90" y="39.80" font-size="5.6" fill="#262626">5</text>
<line x1="677.3" x2="680.1999999999999" y1="15.30" y2="15.30" stroke="#262626" stroke-width="0.8"/>
<text x="681.90" y="17.30" font-size="5.6" fill="#262626">6</text>
<text x="577.70" y="12.75" font-size="5.66" fill="#262626" text-anchor="middle">Surprisal Heatmap For Sodium Across Departments On Day 2 Of Admission--UF</text>
<text x="470.1" y="4.7" font-size="6.6" font-weight="bold" fill="#262626">c</text>
<text x="490.80" y="33.80" font-size="5" fill="#262626" text-anchor="end">STICU</text>
<text x="490.80" y="67.40" font-size="5" fill="#262626" text-anchor="end">NEURO</text>
<text x="490.80" y="101.00" font-size="5" fill="#262626" text-anchor="end">IMC</text>
<text x="490.80" y="134.60" font-size="5" fill="#262626" text-anchor="end">FLOOR</text>
<text transform="translate(500.44,154.8) rotate(-90)" font-size="5.3" fill="#262626" text-anchor="end">12 AM</text>
<text transform="translate(507.32,154.8) rotate(-90)" font-size="5.3" fill="#262626" text-anchor="end">01 AM</text>
<text transform="translate(514.21,154.8) rotate(-90)" font-size="5.3" fill="#262626" text-anchor="end">02 AM</text>
<text transform="translate(521.09,154.8) rotate(-90)" font-size="5.3" fill="#262626" text-anchor="end">03 AM</text>
<text transform="translate(527.98,154.8) rotate(-90)" font-size="5.3" fill="#262626" text-anchor="end">04 AM</text>
<text transform="translate(534.86,156.2) rotate(-90)" font-size="5.3" fill="#262626" text-anchor="end">05 AM</text>
<text transform="translate(541.74,154.8) rotate(-90)" font-size="5.3" fill="#262626" text-anchor="end">06 AM</text>
<text transform="translate(548.62,154.8) rotate(-90)" font-size="5.3" fill="#262626" text-anchor="end">07 AM</text>
<text transform="translate(555.51,154.8) rotate(-90)" font-size="5.3" fill="#262626" text-anchor="end">08 AM</text>
<text transform="translate(562.39,154.8) rotate(-90)" font-size="5.3" fill="#262626" text-anchor="end">09 AM</text>
<text transform="translate(569.27,154.8) rotate(-90)" font-size="5.3" fill="#262626" text-anchor="end">10 AM</text>
<text transform="translate(576.16,154.8) rotate(-90)" font-size="5.3" fill="#262626" text-anchor="end">11 AM</text>
<text transform="translate(583.04,154.8) rotate(-90)" font-size="5.3" fill="#262626" text-anchor="end">12 PM</text>
<text transform="translate(589.92,154.8) rotate(-90)" font-size="5.3" fill="#262626" text-anchor="end">01 PM</text>
<text transform="translate(596.81,154.8) rotate(-90)" font-size="5.3" fill="#262626" text-anchor="end">02 PM</text>
<text transform="translate(603.69,154.8) rotate(-90)" font-size="5.3" fill="#262626" text-anchor="end">03 PM</text>
<text transform="translate(610.57,154.8) rotate(-90)" font-size="5.3" fill="#262626" text-anchor="end">04 PM</text>
<text transform="translate(617.46,154.8) rotate(-90)" font-size="5.3" fill="#262626" text-anchor="end">05 PM</text>
<text transform="translate(624.34,154.8) rotate(-90)" font-size="5.3" fill="#262626" text-anchor="end">06 PM</text>
<text transform="translate(631.22,154.8) rotate(-90)" font-size="5.3" fill="#262626" text-anchor="end">07 PM</text>
<text transform="translate(638.11,154.8) rotate(-90)" font-size="5.3" fill="#262626" text-anchor="end">08 PM</text>
<text transform="translate(644.99,154.8) rotate(-90)" font-size="5.3" fill="#262626" text-anchor="end">09 PM</text>
<text transform="translate(651.87,154.8) rotate(-90)" font-size="5.3" fill="#262626" text-anchor="end">10 PM</text>
<text transform="translate(658.76,154.8) rotate(-90)" font-size="5.3" fill="#262626" text-anchor="end">11 PM</text>
<text x="577.70" y="176.3" font-size="5.6" fill="#262626" text-anchor="middle">Time of Day</text>
<rect x="65.0" y="222.0" width="614.00" height="285.50" fill="#e8e9f2"/>
<text x="54" y="512.55" font-size="12" fill="#262626" text-anchor="end">0</text>
<line x1="65.0" x2="679.0" y1="463.84" y2="463.84" stroke="#fff" stroke-width="1.1"/>
<text x="54" y="468.34" font-size="12" fill="#262626" text-anchor="end">2</text>
<line x1="65.0" x2="679.0" y1="419.63" y2="419.63" stroke="#fff" stroke-width="1.1"/>
<text x="54" y="424.13" font-size="12" fill="#262626" text-anchor="end">4</text>
<line x1="65.0" x2="679.0" y1="375.41" y2="375.41" stroke="#fff" stroke-width="1.1"/>
<text x="54" y="379.91" font-size="12" fill="#262626" text-anchor="end">6</text>
<line x1="65.0" x2="679.0" y1="331.20" y2="331.20" stroke="#fff" stroke-width="1.1"/>
<text x="54" y="335.70" font-size="12" fill="#262626" text-anchor="end">8</text>
<line x1="65.0" x2="679.0" y1="286.99" y2="286.99" stroke="#fff" stroke-width="1.1"/>
<text x="54" y="291.49" font-size="12" fill="#262626" text-anchor="end">10</text>
<line x1="65.0" x2="679.0" y1="242.78" y2="242.78" stroke="#fff" stroke-width="1.1"/>
<text x="54" y="247.28" font-size="12" fill="#262626" text-anchor="end">12</text>
<line x1="125.50" x2="125.50" y1="222.0" y2="507.5" stroke="#fff" stroke-width="1.1"/>
<line x1="248.79" x2="248.79" y1="222.0" y2="507.5" stroke="#fff" stroke-width="1.1"/>
<line x1="372.08" x2="372.08" y1="222.0" y2="507.5" stroke="#fff" stroke-width="1.1"/>
<line x1="495.37" x2="495.37" y1="222.0" y2="507.5" stroke="#fff" stroke-width="1.1"/>
<line x1="618.66" x2="618.66" y1="222.0" y2="507.5" stroke="#fff" stroke-width="1.1"/>
<rect x="94.68" y="438.86" width="61.65" height="69.19" fill="#000000" stroke="#fff" stroke-width="1"/>
<rect x="94.68" y="383.53" width="61.65" height="55.33" fill="#521683" stroke="#fff" stroke-width="1"/>
<rect x="94.68" y="328.86" width="61.65" height="54.67" fill="#b63b81" stroke="#fff" stroke-width="1"/>
<rect x="94.68" y="281.00" width="61.65" height="47.86" fill="#ee8462" stroke="#fff" stroke-width="1"/>
<rect x="94.68" y="234.89" width="61.65" height="46.11" fill="#f1fdbf" stroke="#fff" stroke-width="1"/>
<text x="125.50" y="473.45" font-size="11.1" font-weight="bold" fill="#808080" text-anchor="middle">3.13</text>
<text x="125.50" y="411.19" font-size="11.1" font-weight="bold" fill="#808080" text-anchor="middle">2.503</text>
<text x="125.50" y="356.19" font-size="11.1" font-weight="bold" fill="#808080" text-anchor="middle">2.473</text>
<text x="125.50" y="304.93" font-size="11.1" font-weight="bold" fill="#808080" text-anchor="middle">2.165</text>
<text x="125.50" y="257.94" font-size="11.1" font-weight="bold" fill="#808080" text-anchor="middle">2.086</text>
<text transform="translate(129.00,519.2) rotate(-90)" font-size="12.1" fill="#262626" text-anchor="end">Day 0</text>
<rect x="217.97" y="445.98" width="61.65" height="62.07" fill="#000000" stroke="#fff" stroke-width="1"/>
<rect x="217.97" y="407.29" width="61.65" height="38.69" fill="#521683" stroke="#fff" stroke-width="1"/>
<rect x="217.97" y="369.03" width="61.65" height="38.27" fill="#b63b81" stroke="#fff" stroke-width="1"/>
<rect x="217.97" y="330.19" width="61.65" height="38.84" fill="#ee8462" stroke="#fff" stroke-width="1"/>
<rect x="217.97" y="301.18" width="61.65" height="29.00" fill="#f1fdbf" stroke="#fff" stroke-width="1"/>
<text x="248.79" y="477.01" font-size="11.1" font-weight="bold" fill="#808080" text-anchor="middle">2.808</text>
<text x="248.79" y="426.63" font-size="11.1" font-weight="bold" fill="#808080" text-anchor="middle">1.75</text>
<text x="248.79" y="388.16" font-size="11.1" font-weight="bold" fill="#808080" text-anchor="middle">1.731</text>
<text x="248.79" y="349.61" font-size="11.1" font-weight="bold" fill="#808080" text-anchor="middle">1.757</text>
<text x="248.79" y="315.68" font-size="11.1" font-weight="bold" fill="#808080" text-anchor="middle">1.312</text>
<text transform="translate(252.29,519.2) rotate(-90)" font-size="12.1" fill="#262626" text-anchor="end">Day 1</text>
<rect x="341.26" y="459.39" width="61.65" height="48.66" fill="#000000" stroke="#fff" stroke-width="1"/>
<rect x="341.26" y="424.20" width="61.65" height="35.19" fill="#521683" stroke="#fff" stroke-width="1"/>
<rect x="341.26" y="388.48" width="61.65" height="35.72" fill="#b63b81" stroke="#fff" stroke-width="1"/>
<rect x="341.26" y="353.06" width="61.65" height="35.41" fill="#ee8462" stroke="#fff" stroke-width="1"/>
<rect x="341.26" y="327.95" width="61.65" height="25.11" fill="#f1fdbf" stroke="#fff" stroke-width="1"/>
<text x="372.08" y="483.72" font-size="11.1" font-weight="bold" fill="#808080" text-anchor="middle">2.201</text>
<text x="372.08" y="441.80" font-size="11.1" font-weight="bold" fill="#808080" text-anchor="middle">1.592</text>
<text x="372.08" y="406.34" font-size="11.1" font-weight="bold" fill="#808080" text-anchor="middle">1.616</text>
<text x="372.08" y="370.77" font-size="11.1" font-weight="bold" fill="#808080" text-anchor="middle">1.602</text>
<text x="372.08" y="340.51" font-size="11.1" font-weight="bold" fill="#808080" text-anchor="middle">1.136</text>
<text transform="translate(375.58,519.2) rotate(-90)" font-size="12.1" fill="#262626" text-anchor="end">Day 2</text>
<rect x="464.55" y="464.21" width="61.65" height="43.84" fill="#000000" stroke="#fff" stroke-width="1"/>
<rect x="464.55" y="433.04" width="61.65" height="31.17" fill="#521683" stroke="#fff" stroke-width="1"/>
<rect x="464.55" y="400.42" width="61.65" height="32.63" fill="#b63b81" stroke="#fff" stroke-width="1"/>
<rect x="464.55" y="364.65" width="61.65" height="35.77" fill="#ee8462" stroke="#fff" stroke-width="1"/>
<rect x="464.55" y="342.19" width="61.65" height="22.46" fill="#f1fdbf" stroke="#fff" stroke-width="1"/>
<text x="495.37" y="486.13" font-size="11.1" font-weight="bold" fill="#808080" text-anchor="middle">1.983</text>
<text x="495.37" y="448.63" font-size="11.1" font-weight="bold" fill="#808080" text-anchor="middle">1.41</text>
<text x="495.37" y="416.73" font-size="11.1" font-weight="bold" fill="#808080" text-anchor="middle">1.476</text>
<text x="495.37" y="382.53" font-size="11.1" font-weight="bold" fill="#808080" text-anchor="middle">1.618</text>
<text x="495.37" y="353.42" font-size="11.1" font-weight="bold" fill="#808080" text-anchor="middle">1.016</text>
<text transform="translate(498.87,519.2) rotate(-90)" font-size="12.1" fill="#262626" text-anchor="end">Day 3</text>
<rect x="587.84" y="491.23" width="61.65" height="16.82" fill="#000000" stroke="#fff" stroke-width="1"/>
<rect x="587.84" y="459.06" width="61.65" height="32.16" fill="#521683" stroke="#fff" stroke-width="1"/>
<rect x="587.84" y="429.71" width="61.65" height="29.36" fill="#b63b81" stroke="#fff" stroke-width="1"/>
<rect x="587.84" y="394.91" width="61.65" height="34.79" fill="#ee8462" stroke="#fff" stroke-width="1"/>
<rect x="587.84" y="373.53" width="61.65" height="21.38" fill="#f1fdbf" stroke="#fff" stroke-width="1"/>
<text x="618.66" y="499.64" font-size="11.1" font-weight="bold" fill="#808080" text-anchor="middle">0.761</text>
<text x="618.66" y="475.15" font-size="11.1" font-weight="bold" fill="#808080" text-anchor="middle">1.455</text>
<text x="618.66" y="444.38" font-size="11.1" font-weight="bold" fill="#808080" text-anchor="middle">1.328</text>
<text x="618.66" y="412.31" font-size="11.1" font-weight="bold" fill="#808080" text-anchor="middle">1.574</text>
<text x="618.66" y="384.22" font-size="11.1" font-weight="bold" fill="#808080" text-anchor="middle">0.967</text>
<text transform="translate(622.16,519.2) rotate(-90)" font-size="12.1" fill="#262626" text-anchor="end">Day 5</text>
<text x="371.05" y="198.9" font-size="17.7" fill="#262626" text-anchor="middle">Shannon Entropy of Sodium by days after admission - UF</text>
<text x="372.25" y="577.1" font-size="13.3" fill="#262626" text-anchor="middle">Days after admission</text>
<text transform="translate(19.9,364.5) rotate(-90)" font-size="13.3" fill="#262626" text-anchor="middle">Shannon Entropy</text>
<text x="10.3" y="199" font-size="7" font-weight="bold" fill="#333">d</text>
<rect x="585.5" y="227.5" width="88.1" height="89.7" rx="2.2" fill="#e8e9f2" fill-opacity="0.8" stroke="#d0d0d6" stroke-width="1"/>
<rect x="590.6" y="232.65" width="24.6" height="8.3" fill="#000000" stroke="#fff" stroke-width="0.8"/>
<text x="625.3" y="240.60" font-size="12.3" fill="#262626">ED</text>
<rect x="590.6" y="249.95" width="24.6" height="8.3" fill="#521683" stroke="#fff" stroke-width="0.8"/>
<text x="625.3" y="257.90" font-size="12.3" fill="#262626">STICU</text>
<rect x="590.6" y="267.25" width="24.6" height="8.3" fill="#b63b81" stroke="#fff" stroke-width="0.8"/>
<text x="625.3" y="275.20" font-size="12.3" fill="#262626">NEURO</text>
<rect x="590.6" y="284.55" width="24.6" height="8.3" fill="#ee8462" stroke="#fff" stroke-width="0.8"/>
<text x="625.3" y="292.50" font-size="12.3" fill="#262626">IMC</text>
<rect x="590.6" y="301.85" width="24.6" height="8.3" fill="#f1fdbf" stroke="#fff" stroke-width="0.8"/>
<text x="625.3" y="309.80" font-size="12.3" fill="#262626">FLOOR</text>
</svg></body></html>
